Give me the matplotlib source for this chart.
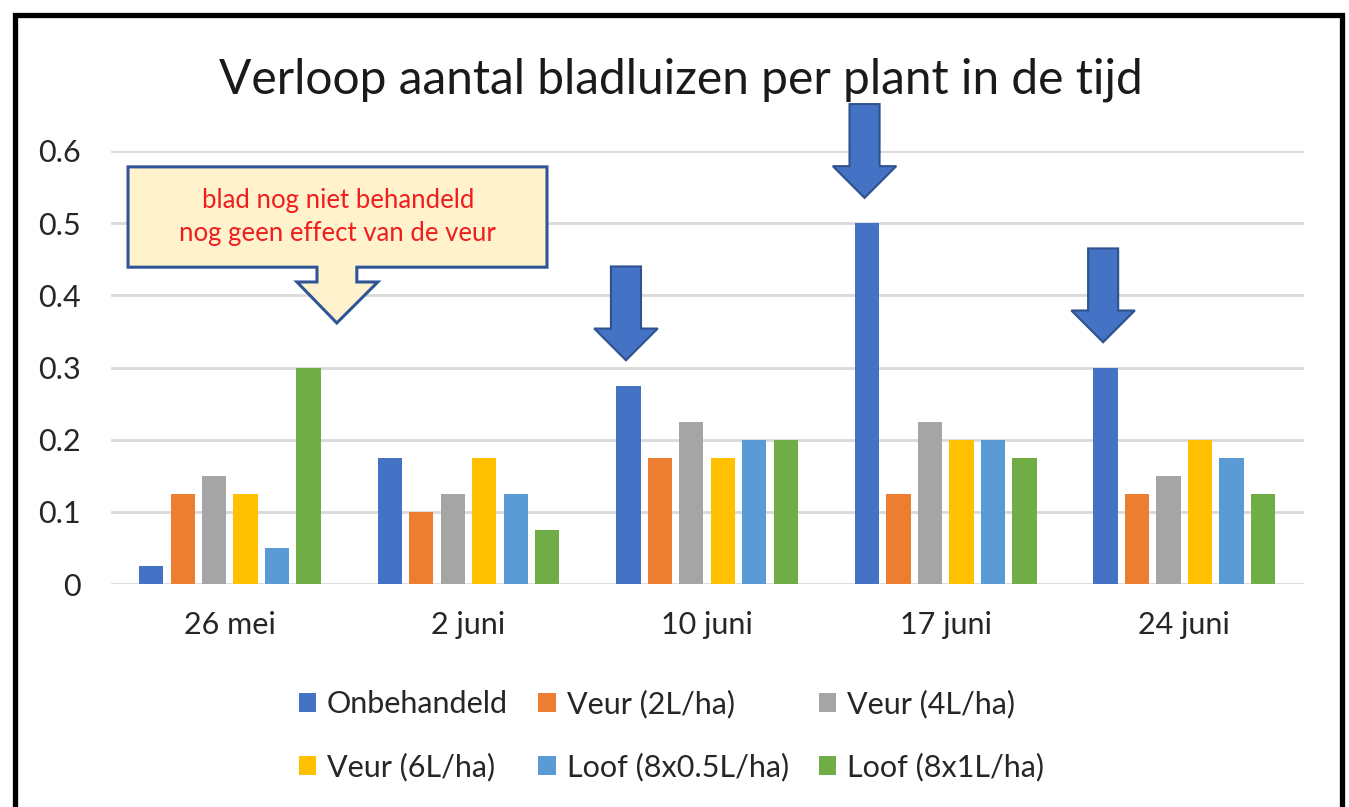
import numpy as np
import matplotlib
matplotlib.use("Agg")
import matplotlib.pyplot as plt
import matplotlib.patches as patches

plt.rcParams['font.family'] = ['Lato', 'DejaVu Sans']

# data
datums = ['26 mei', '2 juni', '10 juni', '17 juni', '24 juni']
onbehandeld = [0.025, 0.175, 0.275, 0.5, 0.3]
veur_2l = [0.125, 0.1, 0.175, 0.125, 0.125]
veur_4l = [0.15, 0.125, 0.225, 0.225, 0.15]
veur_6l = [0.125, 0.175, 0.175, 0.2, 0.2]
loof_05 = [0.05, 0.125, 0.2, 0.2, 0.175]
loof_1 = [0.3, 0.075, 0.2, 0.175, 0.125]
reeksen = ['Onbehandeld', 'Veur (2L/ha)', 'Veur (4L/ha)',
           'Veur (6L/ha)', 'Loof (8x0.5L/ha)', 'Loof (8x1L/ha)']
pijl_datums = [2, 3, 4]  # behandelmomenten met pijl boven onbehandeld

kleuren = ['#4472C4', '#ED7D31', '#A5A5A5', '#FFC000', '#5B9BD5', '#70AD47']
waarden = [onbehandeld, veur_2l, veur_4l, veur_6l, loof_05, loof_1]

fig = plt.figure(figsize=(13.49, 8.07), dpi=100)
ax = fig.add_axes([0.082, 0.2763, 0.8843, 0.5366])

x = np.arange(len(datums))
stap = 0.132
breedte = 0.102
balken = []
for i, (naam, vals, kl) in enumerate(zip(reeksen, waarden, kleuren)):
    b = ax.bar(x + (i - 2.5) * stap, vals, breedte, color=kl, label=naam, zorder=3)
    balken.append(b)

ax.set_xlim(-0.5, len(datums) - 0.5)
ax.set_ylim(0, 0.6)
ax.set_yticks(np.arange(0, 0.61, 0.1))
ax.yaxis.set_major_formatter(matplotlib.ticker.FuncFormatter(lambda v, p: f'{v:g}'))
ax.set_xticks(x)
ax.set_xticklabels(datums)
ax.tick_params(length=0, labelsize=22, colors='#262626')
ax.tick_params(axis='y', pad=21.5)
ax.tick_params(axis='x', pad=19.5)
ax.grid(axis='y', color='#D9D9D9', linewidth=2, zorder=0)
for s in ax.spines.values():
    s.set_visible(False)


def blokpijl(xc, y_tip):
    # dikke blauwe pijl naar beneden
    sw, hw = 0.063, 0.133
    hl, lengte = 0.044, 0.13
    pts = [(xc - sw, y_tip + lengte), (xc + sw, y_tip + lengte),
           (xc + sw, y_tip + hl), (xc + hw, y_tip + hl), (xc, y_tip),
           (xc - hw, y_tip + hl), (xc - sw, y_tip + hl)]
    ax.add_patch(patches.Polygon(pts, closed=True, facecolor='#4472C4',
                                 edgecolor='#2F528F', linewidth=1.5,
                                 zorder=5, clip_on=False))


for d in pijl_datums:
    blokpijl(x[d] - 2.5 * stap - 0.01, onbehandeld[d] + 0.035)

# tekstballon met pijl
L, R, T, B = -0.427, 1.329, 0.578, 0.439
sl, sr, hl_, hr, hb = 0.365, 0.532, 0.281, 0.620, 0.4185
tx, ty = 0.448, 0.3617
ballon = [(L, T), (R, T), (R, B), (sr, B), (sr, hb), (hr, hb), (tx, ty),
          (hl_, hb), (sl, hb), (sl, B), (L, B)]
ax.add_patch(patches.Polygon(ballon, closed=True, facecolor='#FFF2CC',
                             edgecolor='#2F5597', linewidth=2.2, zorder=6,
                             clip_on=False))
ax.text(0.452, 0.532, 'blad nog niet behandeld', ha='center', va='center',
        color='#F01E1E', fontsize=18.5, zorder=7)
ax.text(0.452, 0.485, 'nog geen effect van de veur', ha='center', va='center',
        color='#F01E1E', fontsize=18.5, zorder=7)

fig.text(0.505, 0.901, 'Verloop aantal bladluizen per plant in de tijd',
         ha='center', va='center', fontsize=34.5, color='#1a1a1a')

# legenda rij voor rij: matplotlib vult kolom voor kolom
volgorde = [0, 3, 1, 4, 2, 5]
fig.legend([balken[i] for i in volgorde], [reeksen[i] for i in volgorde],
           loc='center', bbox_to_anchor=(0.4978, 0.0886), ncol=3,
           frameon=False, fontsize=22, handlelength=0.56, handleheight=0.56,
           handletextpad=0.36, columnspacing=1.0, labelspacing=1.14,
           labelcolor='#262626')

# zwarte rand rond de afbeelding
rand = patches.Rectangle((0.0108, -0.02), 0.9840, 1.002, transform=fig.transFigure,
                         fill=False, edgecolor='black', linewidth=3.8)
fig.patches.append(rand)

fig.savefig('out.png', dpi=100)
